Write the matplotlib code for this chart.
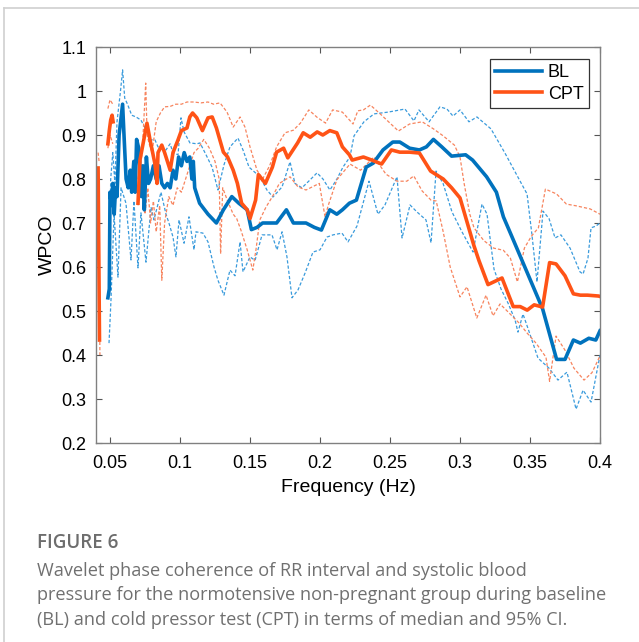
import numpy as np
import matplotlib.pyplot as plt
from matplotlib.lines import Line2D

nan = np.nan

# BL median
bl_f = [0.0485, 0.0495, 0.0500, 0.0510, 0.0520, 0.0530, 0.0540, 0.0550, 0.0565, 0.0590,
        0.0600, 0.0615, 0.0630, 0.0645, 0.0655, 0.0670, 0.0680, 0.0690, 0.0705, 0.0715,
        0.0725, 0.0735, 0.0745, 0.0760, 0.0775, 0.0790, 0.0810, 0.0830, 0.0850, 0.0870,
        0.0890, 0.0910, 0.0930, 0.0950, 0.0970, 0.0990, 0.1010, 0.1030, 0.1050, 0.1070,
        0.1085, 0.1095, 0.1105, 0.1140, 0.1200, 0.1260, 0.1310, 0.1370, 0.1420, 0.1480,
        0.1510, 0.1550, 0.1590, 0.1650, 0.1690, 0.1760, 0.1810, 0.1860, 0.1900, 0.1960,
        0.2010, 0.2070, 0.2120, 0.2160, 0.2210, 0.2260, 0.2330, 0.2380, 0.2450, 0.2520,
        0.2570, 0.2640, 0.2710, 0.2760, 0.2810, 0.2870, 0.2940, 0.3040, 0.3090, 0.3190,
        0.3260, 0.3310, 0.3360, 0.3590, 0.3690, 0.3750, 0.3810, 0.3860, 0.3920, 0.3970,
        0.4000]
bl_v = [0.53, 0.55, 0.77, 0.74, 0.79, 0.72, 0.78, 0.76, 0.90, 0.97,
        0.90, 0.80, 0.78, 0.82, 0.77, 0.84, 0.77, 0.89, 0.87, 0.82,
        0.76, 0.83, 0.73, 0.85, 0.79, 0.80, 0.83, 0.80, 0.83, 0.79,
        0.78, 0.79, 0.78, 0.82, 0.80, 0.85, 0.83, 0.86, 0.84, 0.85,
        0.80, 0.84, 0.78, 0.745, 0.72, 0.70, 0.73, 0.76, 0.745, 0.73,
        0.685, 0.69, 0.70, 0.70, 0.70, 0.73, 0.70, 0.70, 0.70, 0.69,
        0.684, 0.73, 0.72, 0.73, 0.745, 0.752, 0.827, 0.836, 0.866, 0.884,
        0.884, 0.87, 0.866, 0.873, 0.89, 0.873, 0.852, 0.855, 0.843, 0.805,
        0.77, 0.714, 0.677, 0.505, 0.39, 0.39, 0.434, 0.427, 0.438, 0.434,
        0.455]

# BL 95% CI
bl_hi_f = [0.0495, 0.0505, 0.0520, 0.0535, 0.0550, 0.0575, 0.0590, 0.0605, 0.0625, 0.0655,
           0.0686, 0.0721, 0.0750, 0.0786, 0.0821, 0.0843, 0.0900, 0.0929, 0.0950, 0.0986,
           0.1007, 0.1029, 0.1071, 0.1121, 0.1143, 0.1186, 0.1229, 0.1271, 0.1314, 0.1357,
           0.1414, 0.1450, 0.1493, 0.1571, 0.1621, 0.1664, 0.1729, 0.1786, 0.1821, 0.1871,
           0.1929, 0.1979, 0.2021, 0.2071, 0.2121, 0.2164, 0.2214, 0.2243, 0.2314, 0.2386,
           0.2486, 0.2607, 0.2671, 0.2707, 0.2779, 0.2857, 0.2907, 0.2950, 0.3000, 0.3064,
           0.3121, 0.3221, 0.3321, 0.3421, 0.3479, 0.3514, 0.3550, 0.3593, 0.3636, 0.3679,
           0.3721, 0.3786, 0.3857, 0.3879, 0.3914, 0.3936, 0.3971, 0.4000]
bl_hi_v = [0.58, 0.80, 0.86, 0.79, 0.93, 1.00, 1.048, 0.984, 0.97, 0.945,
           0.941, 0.934, 0.916, 0.889, 0.889, 0.873, 0.866, 0.88, 0.86, 0.855,
           0.939, 0.907, 0.882, 0.88, 0.882, 0.855, 0.827, 0.775, 0.832, 0.873,
           0.893, 0.866, 0.827, 0.805, 0.775, 0.759, 0.782, 0.839, 0.79, 0.78,
           0.798, 0.814, 0.80, 0.775, 0.80, 0.827, 0.85, 0.898, 0.93, 0.948,
           0.952, 0.959, 0.932, 0.957, 0.93, 0.964, 0.959, 0.943, 0.957, 0.93,
           0.941, 0.914, 0.859, 0.80, 0.766, 0.673, 0.566, 0.727, 0.71, 0.666,
           0.673, 0.643, 0.589, 0.584, 0.62, 0.689, 0.693, 0.70]

bl_lo_f = [0.0493, 0.0507, 0.0529, 0.0557, 0.0579, 0.0614, 0.0650, 0.0671, 0.0700, 0.0721,
           0.0757, 0.0793, 0.0814, 0.0864, 0.0900, 0.0921, 0.0950, 0.0971, 0.0993, 0.1029,
           0.1064, 0.1100, 0.1114, 0.1164, 0.1200, 0.1243, 0.1271, 0.1314, 0.1357, 0.1393,
           0.1429, 0.1450, 0.1500, 0.1536, 0.1586, 0.1657, 0.1693, 0.1729, 0.1764, 0.1800,
           0.1843, 0.1893, 0.1950, 0.2000, 0.2050, 0.2093, 0.2157, 0.2200, 0.2264, 0.2350,
           0.2414, 0.2464, 0.2550, 0.2586, 0.2643, 0.2693, 0.2757, 0.2793, 0.2829, 0.2879,
           0.2943, 0.3014, 0.3093, 0.3157, 0.3193, 0.3243, 0.3293, 0.3343, 0.3393, 0.3414,
           0.3450, 0.3486, 0.3557, 0.3636, 0.3700, 0.3764, 0.3829, 0.3879, 0.3936, 0.4000]
bl_lo_v = [0.427, 0.525, 0.72, 0.577, 0.78, 0.745, 0.616, 0.75, 0.598, 0.723,
           0.611, 0.736, 0.707, 0.77, 0.72, 0.70, 0.668, 0.623, 0.707, 0.654,
           0.714, 0.639, 0.68, 0.677, 0.657, 0.60, 0.57, 0.536, 0.593, 0.58,
           0.657, 0.589, 0.623, 0.615, 0.673, 0.673, 0.639, 0.68, 0.623, 0.53,
           0.548, 0.586, 0.634, 0.639, 0.668, 0.673, 0.677, 0.657, 0.693, 0.795,
           0.72, 0.741, 0.805, 0.666, 0.741, 0.725, 0.707, 0.655, 0.818, 0.79,
           0.725, 0.68, 0.634, 0.743, 0.72, 0.595, 0.55, 0.518, 0.48, 0.452,
           0.493, 0.46, 0.393, 0.37, 0.343, 0.361, 0.277, 0.32, 0.293, 0.40]

# CPT median (gaps where no value)
cpt_f = [0.0415, 0.0425, 0.0450, 0.0485, 0.0495, 0.0505, 0.0515, 0.0522, 0.0600, 0.0700,
         0.0714, 0.0764, 0.0786, 0.0820, 0.0836, 0.0843, 0.0870, 0.0890, 0.0930, 0.0950,
         0.0986, 0.1010, 0.1050, 0.1070, 0.1090, 0.1120, 0.1160, 0.1200, 0.1230, 0.1260,
         0.1310, 0.1340, 0.1380, 0.1410, 0.1440, 0.1480, 0.1500, 0.1540, 0.1560, 0.1610,
         0.1660, 0.1690, 0.1740, 0.1770, 0.1840, 0.1880, 0.1930, 0.1980, 0.2020, 0.2070,
         0.2120, 0.2160, 0.2210, 0.2230, 0.2310, 0.2370, 0.2440, 0.2510, 0.2570, 0.2640,
         0.2710, 0.2790, 0.2880, 0.2940, 0.3000, 0.3100, 0.3136, 0.3200, 0.3300, 0.3380,
         0.3430, 0.3480, 0.3530, 0.3590, 0.3640, 0.3686, 0.3750, 0.3810, 0.3860, 0.3910,
         0.3990, 0.4000]
cpt_v = [0.825, 0.434, nan, 0.88, 0.91, 0.934, 0.945, 0.93, nan, 0.745,
         0.843, 0.927, 0.889, 0.836, 0.79, 0.86, 0.877, 0.86, 0.82, 0.86,
         0.889, 0.91, 0.916, 0.941, 0.95, 0.939, 0.91, 0.939, 0.941, 0.916,
         0.861, 0.85, 0.82, 0.79, 0.745, 0.73, 0.71, 0.752, 0.81, 0.79,
         0.827, 0.861, 0.87, 0.848, 0.882, 0.905, 0.895, 0.907, 0.90, 0.91,
         0.905, 0.873, 0.855, 0.843, 0.85, 0.843, 0.834, 0.866, 0.861, 0.861,
         0.859, 0.818, 0.80, 0.78, 0.757, 0.648, 0.614, 0.56, 0.575, 0.51,
         0.51, 0.502, 0.514, 0.509, 0.61, 0.607, 0.58, 0.539, 0.536, 0.536,
         0.534, 0.533]

# CPT 95% CI
cpt_hi_f = [0.0415, 0.0422, 0.0450, 0.0485, 0.0500, 0.0520, 0.0600, 0.0700, 0.0730, 0.0755,
            0.0765, 0.0780, 0.0800, 0.0830, 0.0860, 0.0890, 0.0930, 0.0970, 0.1010, 0.1050,
            0.1100, 0.1150, 0.1200, 0.1240, 0.1286, 0.1336, 0.1380, 0.1429, 0.1464, 0.1500,
            0.1550, 0.1590, 0.1640, 0.1690, 0.1750, 0.1810, 0.1860, 0.1920, 0.1980, 0.2040,
            0.2090, 0.2160, 0.2236, 0.2270, 0.2310, 0.2360, 0.2430, 0.2490, 0.2560, 0.2640,
            0.2730, 0.2810, 0.2880, 0.2960, 0.3000, 0.3030, 0.3070, 0.3100, 0.3170, 0.3240,
            0.3310, 0.3360, 0.3410, 0.3460, 0.3510, 0.3560, 0.3610, 0.3690, 0.3760, 0.3830,
            0.3930, 0.4000]
cpt_hi_v = [0.86, 0.84, nan, 0.96, 0.98, 0.97, nan, 0.80, 0.86, 1.018,
            0.90, 0.88, 0.86, 0.93, 0.95, 0.964, 0.965, 0.97, 0.97, 0.975,
            0.975, 0.973, 0.975, 0.97, 0.973, 0.952, 0.918, 0.941, 0.918, 0.873,
            0.82, 0.80, 0.83, 0.873, 0.905, 0.911, 0.927, 0.957, 0.94, 0.927,
            0.957, 0.952, 0.925, 0.955, 0.957, 0.968, 0.948, 0.93, 0.909, 0.925,
            0.93, 0.914, 0.898, 0.877, 0.85, 0.789, 0.72, 0.689, 0.66, 0.643,
            0.638, 0.62, 0.566, 0.643, 0.67, 0.689, 0.777, 0.766, 0.743, 0.739,
            0.732, 0.72]

cpt_lo_f = [0.0418, 0.0428, 0.0450, 0.0485, 0.0500, 0.0520, 0.0600, 0.0700, 0.0725, 0.0750,
            0.0770, 0.0790, 0.0810, 0.0830, 0.0855, 0.0870, 0.0890, 0.0920, 0.0950, 0.0980,
            0.1010, 0.1040, 0.1070, 0.1100, 0.1130, 0.1170, 0.1210, 0.1250, 0.1280, 0.1290,
            0.1305, 0.1340, 0.1380, 0.1405, 0.1435, 0.1480, 0.1520, 0.1543, 0.1570, 0.1614,
            0.1660, 0.1710, 0.1786, 0.1843, 0.1900, 0.1995, 0.2036, 0.2060, 0.2120, 0.2214,
            0.2290, 0.2386, 0.2471, 0.2550, 0.2620, 0.2670, 0.2729, 0.2793, 0.2830, 0.2880,
            0.2930, 0.3000, 0.3050, 0.3120, 0.3186, 0.3236, 0.3286, 0.3343, 0.3421, 0.3479,
            0.3543, 0.3614, 0.3640, 0.3686, 0.3750, 0.3814, 0.3886, 0.3943, 0.4000]
cpt_lo_v = [0.80, 0.40, nan, 0.87, 0.90, 0.88, nan, 0.74, 0.80, 0.72,
            0.78, 0.70, 0.75, 0.68, 0.74, 0.57, 0.70, 0.76, 0.74, 0.78,
            0.77, 0.80, 0.83, 0.86, 0.87, 0.89, 0.87, 0.84, 0.80, 0.63,
            0.78, 0.75, 0.72, 0.71, 0.684, 0.639, 0.593, 0.64, 0.707, 0.736,
            0.76, 0.79, 0.805, 0.782, 0.775, 0.79, 0.714, 0.741, 0.798, 0.834,
            0.82, 0.85, 0.811, 0.795, 0.795, 0.807, 0.773, 0.752, 0.75, 0.68,
            0.60, 0.532, 0.555, 0.484, 0.536, 0.489, 0.516, 0.498, 0.473, 0.45,
            0.427, 0.395, 0.34, 0.443, 0.411, 0.37, 0.343, 0.36, 0.398]

x_ticks = [0.05, 0.1, 0.15, 0.2, 0.25, 0.3, 0.35, 0.4]
x_labels = ['0.05', '0.1', '0.15', '0.2', '0.25', '0.3', '0.35', '0.4']
y_ticks = [0.2, 0.3, 0.4, 0.5, 0.6, 0.7, 0.8, 0.9, 1.0, 1.1]
y_labels = ['0.2', '0.3', '0.4', '0.5', '0.6', '0.7', '0.8', '0.9', '1', '1.1']

blue = '#0072BD'
orange = '#FF5316'
blue_ci = '#3A9BDC'
orange_ci = '#F7845E'

plt.rcParams['font.family'] = ['Liberation Sans', 'DejaVu Sans']

fig = plt.figure(figsize=(6.39, 6.42), dpi=100)
ax = fig.add_axes([96 / 639, 1 - 443 / 642, 504 / 639, 396 / 642])

dash = (0, (2.6, 1.6))
ax.plot(bl_hi_f, bl_hi_v, color=blue_ci, lw=0.9, linestyle=dash)
ax.plot(bl_lo_f, bl_lo_v, color=blue_ci, lw=0.9, linestyle=dash)
ax.plot(cpt_hi_f, cpt_hi_v, color=orange_ci, lw=0.9, linestyle=dash)
ax.plot(cpt_lo_f, cpt_lo_v, color=orange_ci, lw=0.9, linestyle=dash)
ax.plot(bl_f, bl_v, color=blue, lw=2.6, label='BL', solid_joinstyle='round')
ax.plot(cpt_f, cpt_v, color=orange, lw=2.6, label='CPT', solid_joinstyle='round')

ax.set_xlim(0.04, 0.4)
ax.set_ylim(0.2, 1.1)
ax.set_xticks(x_ticks)
ax.set_xticklabels(x_labels)
ax.set_yticks(y_ticks)
ax.set_yticklabels(y_labels)
ax.tick_params(direction='in', top=True, right=True, length=4, width=0.8,
               color='#555555', labelsize=13)
ax.tick_params(axis='x', pad=8.5)
ax.tick_params(axis='y', pad=7)
for s in ax.spines.values():
    s.set_color('#808080')
    s.set_linewidth(1.0)
ax.set_xlabel('Frequency (Hz)', fontsize=14, labelpad=5)
ax.set_ylabel('WPCO', fontsize=14, labelpad=4)

leg = ax.legend(loc='upper right', bbox_to_anchor=(0.978, 0.97), fontsize=13,
                fancybox=False, framealpha=1, edgecolor='#333333',
                handlelength=2.6, handletextpad=0.3, borderpad=0.3,
                labelspacing=0.25, borderaxespad=0)
leg.get_frame().set_linewidth(0.9)

# outer panel border
fig.add_artist(Line2D([4 / 639, 1], [1 - 8 / 642, 1 - 8 / 642], color='#d0d0d0', lw=1.2))
fig.add_artist(Line2D([4 / 639, 4 / 639], [0, 1 - 8 / 642], color='#d0d0d0', lw=1.2))

cap_font = ['Open Sans', 'DejaVu Sans']
fig.text(37 / 639, 1 - 543 / 642, 'FIGURE 6', fontsize=13.5, color='#6d6d6d',
         fontweight='semibold', family=cap_font, va='center')
caption = ['Wavelet phase coherence of RR interval and systolic blood',
           'pressure for the normotensive non-pregnant group during baseline',
           '(BL) and cold pressor test (CPT) in terms of median and 95% CI.']
for i, line in enumerate(caption):
    fig.text(37 / 639, 1 - (571 + 24.5 * i) / 642, line, fontsize=13.1, color='#707070',
             family=cap_font, va='center')

fig.savefig('out.png', dpi=100)
